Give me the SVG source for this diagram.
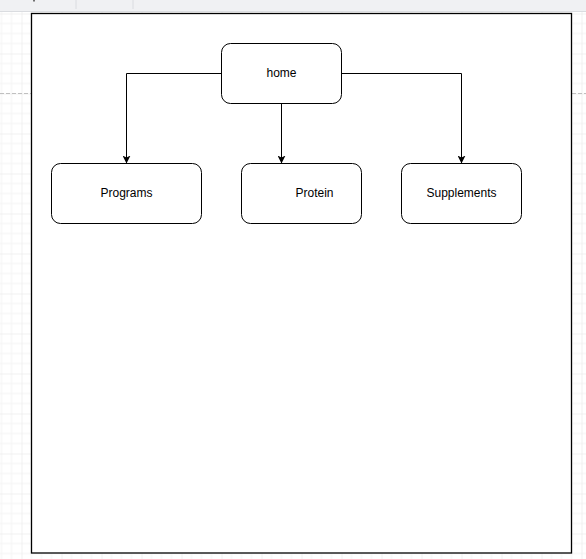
<svg xmlns="http://www.w3.org/2000/svg" width="586" height="559" viewBox="0 0 586 559">
  <style>
    .node { fill: #ffffff; stroke: #000000; stroke-width: 1; }
    .label { font-family: "Liberation Sans", Arial, Helvetica, sans-serif; font-size: 12px; fill: #000000; text-anchor: middle; dominant-baseline: central; }
    .edge { fill: none; stroke: #000000; stroke-width: 1; marker-end: url(#arrow); }
  </style>
  <defs>
    <pattern id="grid" patternUnits="userSpaceOnUse" x="21.5" y="13.5" width="40" height="40">
      <path d="M10,0 V40 M20,0 V40 M30,0 V40 M0,10 H40 M0,20 H40 M0,30 H40" stroke="#f3f3f3" stroke-width="1" fill="none"/>
      <path d="M0,0 V40 M0,0 H40" stroke="#e4e4e4" stroke-width="1" fill="none"/>
    </pattern>
    <marker id="arrow" markerUnits="userSpaceOnUse" viewBox="0 0 8 8" refX="8" refY="4" markerWidth="8" markerHeight="8" orient="auto">
      <path d="M0,0 L8,4 L0,8 L2,4 z" fill="#000000"/>
    </marker>
  </defs>

  <!-- canvas background with grid -->
  <rect x="0" y="0" width="586" height="559" fill="#ffffff"/>
  <rect x="0" y="0" width="586" height="559" fill="url(#grid)"/>

  <!-- page break dashed lines -->
  <path d="M0,93.5 H31 M572,93.5 H586" stroke="#c0c0c0" stroke-width="1" stroke-dasharray="4,2" fill="none"/>

  <!-- top toolbar strip -->
  <rect x="0" y="0" width="586" height="11" fill="#f0f1f3"/>
  <path d="M0,11.5 H586" stroke="#dadce0" stroke-width="1"/>
  <path d="M76,0 V9 M133,0 V9" stroke="#dadce0" stroke-width="1"/>
  <rect x="33" y="0" width="2" height="1.5" fill="#707070"/>

  <!-- page / container -->
  <rect id="page" x="31.5" y="13.5" width="540" height="539.5" fill="#ffffff" stroke="#000000" stroke-width="1.3"/>

  <g id="connectors">
    <path class="edge" d="M221.5,73.5 H126.5 V163.5"/>
    <path class="edge" d="M281.5,103.5 V163.5"/>
    <path class="edge" d="M341.5,73.5 H461.5 V163.5"/>
  </g>

  <g id="home">
    <rect class="node" x="221.5" y="43.5" width="120" height="60" rx="9" ry="9"/>
    <text class="label" x="281.5" y="72.5">home</text>
  </g>
  <g id="programs">
    <rect class="node" x="51.5" y="163.5" width="150" height="60" rx="9" ry="9"/>
    <text class="label" x="126.5" y="192.5">Programs</text>
  </g>
  <g id="protein">
    <rect class="node" x="241.5" y="163.5" width="120" height="60" rx="9" ry="9"/>
    <text class="label" x="314.5" y="192.5">Protein</text>
  </g>
  <g id="supplements">
    <rect class="node" x="401.5" y="163.5" width="120" height="60" rx="9" ry="9"/>
    <text class="label" x="461.5" y="192.5">Supplements</text>
  </g>
</svg>
